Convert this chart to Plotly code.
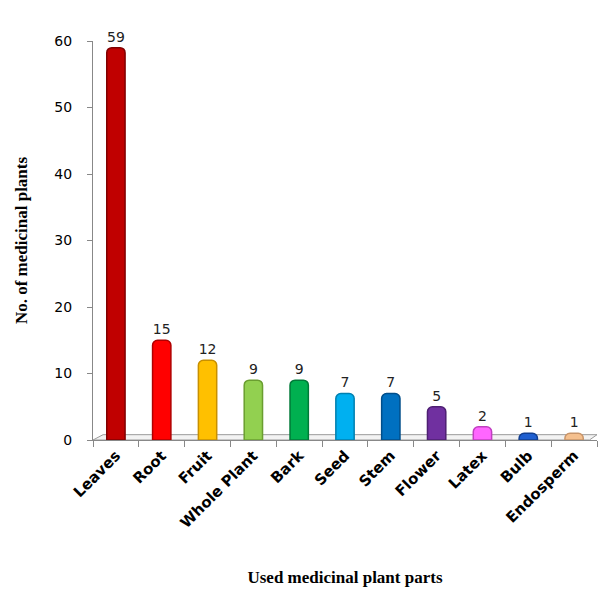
import plotly.graph_objects as go

parts = ["Leaves", "Root", "Fruit", "Whole Plant", "Bark", "Seed", "Stem",
         "Flower", "Latex", "Bulb", "Endosperm"]
counts = [59, 15, 12, 9, 9, 7, 7, 5, 2, 1, 1]
colors = ["#C00000", "#FF0000", "#FFC000", "#92D050", "#00B050", "#00B0F0",
          "#0070C0", "#7030A0", "#FF66FF", "#1F5FD0", "#F5C08E"]
edges = ["#800000", "#B00000", "#C89000", "#6A9E30", "#007A38", "#0080B0",
         "#004E8A", "#4E1F72", "#C040C0", "#123F90", "#C8956A"]

fig = go.Figure()
fig.add_trace(go.Bar(
    x=parts, y=counts,
    marker=dict(color=colors, line=dict(color=edges, width=1.5), cornerradius=5),
    text=[str(c) for c in counts], textposition="outside", cliponaxis=False,
    textfont=dict(family="DejaVu Sans", size=14, color="#222"),
    width=0.4,
))

# 3D-like floor
fig.add_shape(type="path", xref="paper", yref="y",
              path="M 0,0 L 0.02,0.8 L 1,0.8 L 0.985,0 Z",
              fillcolor="rgba(235,235,235,0.6)", line=dict(color="#9a9a9a", width=1),
              layer="below")

fig.update_layout(
    width=600, height=592,
    margin=dict(l=93, r=3, t=41, b=152),
    plot_bgcolor="white", paper_bgcolor="white",
    showlegend=False,
    xaxis=dict(
        tickangle=-45, ticks="outside", tickson="boundaries", ticklen=6,
        tickcolor="#888", showline=True, linecolor="#888", linewidth=1,
        tickfont=dict(family="DejaVu Sans", size=15, color="black", weight="bold"),
        title=dict(text="<b>Used medicinal plant parts</b>",
                   font=dict(family="Liberation Serif", size=17, color="black"),
                   standoff=40),
    ),
    yaxis=dict(
        range=[0, 60], dtick=10, ticks="outside", ticklen=5, tickcolor="#888",
        showline=True, linecolor="#888", linewidth=1, showgrid=False,
        zeroline=False, ticklabelstandoff=12,
        tickfont=dict(family="DejaVu Sans", size=14, color="black"),
        title=dict(text="<b>No. of medicinal plants</b>",
                   font=dict(family="Liberation Serif", size=17, color="black"),
                   standoff=22),
    ),
)

fig.write_html("out.html")
